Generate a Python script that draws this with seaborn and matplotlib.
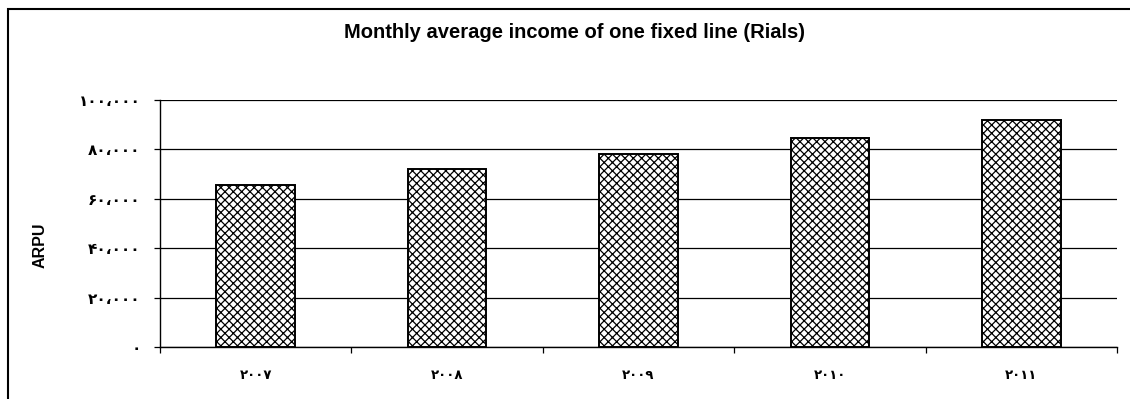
import matplotlib
matplotlib.use("Agg")
import matplotlib.pyplot as plt
from matplotlib.patches import Rectangle
import seaborn as sns
import pandas as pd

# Data
years = ["۲۰۰۷", "۲۰۰۸", "۲۰۰۹", "۲۰۱۰", "۲۰۱۱"]
arpu = [65500, 72000, 78000, 84500, 92000]
ytick_values = [0, 20000, 40000, 60000, 80000, 100000]
ytick_labels = ["۰", "۲۰،۰۰۰", "۴۰،۰۰۰", "۶۰،۰۰۰", "۸۰،۰۰۰", "۱۰۰،۰۰۰"]

df = pd.DataFrame({"year": years, "arpu": arpu})

sns.set_theme(style="white")
plt.rcParams["font.family"] = ["Liberation Sans", "DejaVu Sans"]
plt.rcParams["hatch.linewidth"] = 0.9
plt.rcParams["text.color"] = "black"
plt.rcParams["axes.labelcolor"] = "black"
plt.rcParams["xtick.color"] = "black"
plt.rcParams["ytick.color"] = "black"

fig = plt.figure(figsize=(11.3, 3.99), dpi=100)
ax = fig.add_axes([160 / 1130, 1 - 347 / 399, (1117 - 160) / 1130, (347 - 100) / 399])

sns.barplot(data=df, x="year", y="arpu", order=years, color="white",
            width=0.41, edgecolor="black", linewidth=1.4, ax=ax, zorder=3)
for p in ax.patches:
    p.set_hatch("xxxx")
    p.set_edgecolor("black")

ax.set_ylim(0, 100000)
ax.set_xlim(-0.5, len(years) - 0.5)

# Horizontal gridlines
ax.set_yticks(ytick_values)
ax.set_yticklabels(ytick_labels, family="DejaVu Sans", fontsize=11,
                   fontweight="bold")
ax.yaxis.grid(True, color="black", linewidth=0.9)
ax.set_axisbelow(True)
ax.tick_params(axis="y", direction="out", length=4, width=0.9, color="black",
               pad=10, left=True)

# Category boundaries as major ticks, labels on minor ticks at bar centres
ax.set_xticks([i - 0.5 for i in range(len(years) + 1)])
ax.set_xticklabels([""] * (len(years) + 1))
ax.set_xticks(range(len(years)), minor=True)
ax.set_xticklabels(years, minor=True, family="DejaVu Sans", fontsize=9.5,
                   fontweight="bold")
ax.tick_params(axis="x", which="major", direction="out", length=4, width=0.9,
               color="black", bottom=True)
ax.tick_params(axis="x", which="minor", length=0, pad=16)

for side in ["top", "right"]:
    ax.spines[side].set_visible(False)
for side in ["left", "bottom"]:
    ax.spines[side].set_color("black")
    ax.spines[side].set_linewidth(1.0)

ax.set_xlabel("")
ax.set_ylabel("ARPU", fontsize=11.5, fontweight="bold")
ax.yaxis.set_label_coords(-112 / 957, (347 - 245) / 247)

fig.text(575 / 1130, 1 - 33 / 399, "Monthly average income of one fixed line (Rials)",
         ha="center", va="center", fontsize=14.5, fontweight="bold")

# Outer chart frame
fig.patches.append(Rectangle((8 / 1130, -0.2), 1.2, 1.2 - 9 / 399,
                             transform=fig.transFigure, fill=False,
                             edgecolor="black", linewidth=1.5))

fig.savefig("out.png", dpi=100, facecolor="white")
